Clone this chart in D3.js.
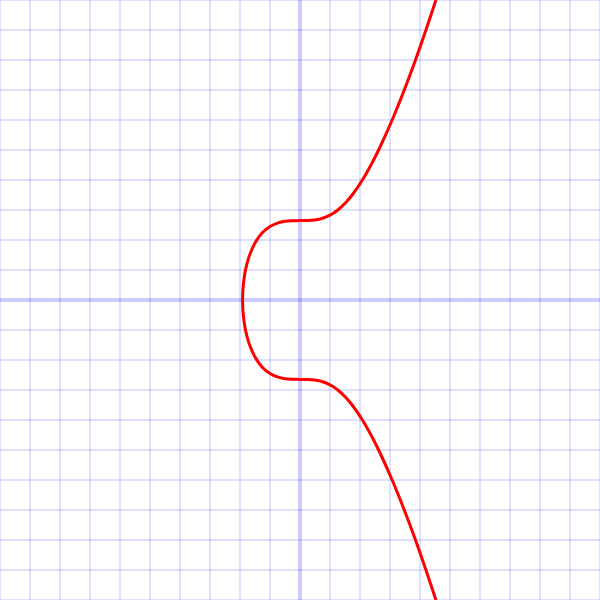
<!DOCTYPE html>
<html>
<head>
<meta charset="utf-8">
<script src="https://cdn.jsdelivr.net/npm/d3@7"></script>
<style>
	body { margin: 0; background: #fff; }
	svg { display: block; }
</style>
</head>
<body>
<script>
// points, top branch down to the x-axis and back out
var curveX = [4.531, 4.198, 3.849, 3.476, 3.072, 2.621, 2.366, 2.080, 1.738, 1.527, 1.260, 1.121, 1.0, 0.75, 0.5, 0.25, 0,
	-0.25, -0.5, -0.75, -1, -1.25, -1.5, -1.7, -1.8, -1.85, -1.89, -1.908, -1.913,
	-1.908, -1.89, -1.85, -1.8, -1.7, -1.5, -1.25, -1, -0.75, -0.5, -0.25,
	0, 0.25, 0.5, 0.75, 1.0, 1.121, 1.260, 1.527, 1.738, 2.080, 2.366, 2.621, 3.072, 3.476, 3.849, 4.198, 4.531];
var curveY = [10, 9, 8, 7, 6, 5, 4.5, 4, 3.5, 3.25, 3, 2.9, 2.828, 2.724, 2.669, 2.649, 2.646,
	2.643, 2.622, 2.565, 2.449, 2.247, 1.904, 1.445, 1.081, 0.818, 0.5, 0.25, 0,
	-0.25, -0.5, -0.818, -1.081, -1.445, -1.904, -2.247, -2.449, -2.565, -2.622, -2.643,
	-2.646, -2.649, -2.669, -2.724, -2.828, -2.9, -3, -3.25, -3.5, -4, -4.5, -5, -6, -7, -8, -9, -10];

var gridTicks = d3.range(-10, 11);

var width = 600, height = 600;

var x = d3.scaleLinear().domain([-10, 10]).range([0, width]);
var y = d3.scaleLinear().domain([-10, 10]).range([height, 0]);

var svg = d3.select("body").append("svg")
	.attr("width", width)
	.attr("height", height);

// grid
svg.append("g")
	.selectAll("line")
	.data(gridTicks.filter(function(d) { return d != 0; }))
	.enter()
	.append("line")
	.attr("x1", function(d) { return x(d); })
	.attr("x2", function(d) { return x(d); })
	.attr("y1", 0)
	.attr("y2", height)
	.style("stroke", "rgba(0,0,255,0.12)")
	.style("stroke-width", 2);

svg.append("g")
	.selectAll("line")
	.data(gridTicks.filter(function(d) { return d != 0; }))
	.enter()
	.append("line")
	.attr("y1", function(d) { return y(d); })
	.attr("y2", function(d) { return y(d); })
	.attr("x1", 0)
	.attr("x2", width)
	.style("stroke", "rgba(0,0,255,0.12)")
	.style("stroke-width", 2);

// axes
svg.append("line")
	.attr("x1", x(0)).attr("x2", x(0))
	.attr("y1", 0).attr("y2", height)
	.style("stroke", "rgba(0,0,255,0.2)")
	.style("stroke-width", 4);

svg.append("line")
	.attr("y1", y(0)).attr("y2", y(0))
	.attr("x1", 0).attr("x2", width)
	.style("stroke", "rgba(0,0,255,0.2)")
	.style("stroke-width", 4);

var pts = curveX.map(function(d, i) { return [d, curveY[i]]; });

var line = d3.line()
	.x(function(d) { return x(d[0]); })
	.y(function(d) { return y(d[1]); })
	.curve(d3.curveCatmullRom);

svg.append("path")
	.datum(pts)
	.attr("d", line)
	.style("fill", "none")
	.style("stroke", "#ff0000")
	.style("stroke-width", 3);
</script>
</body>
</html>
